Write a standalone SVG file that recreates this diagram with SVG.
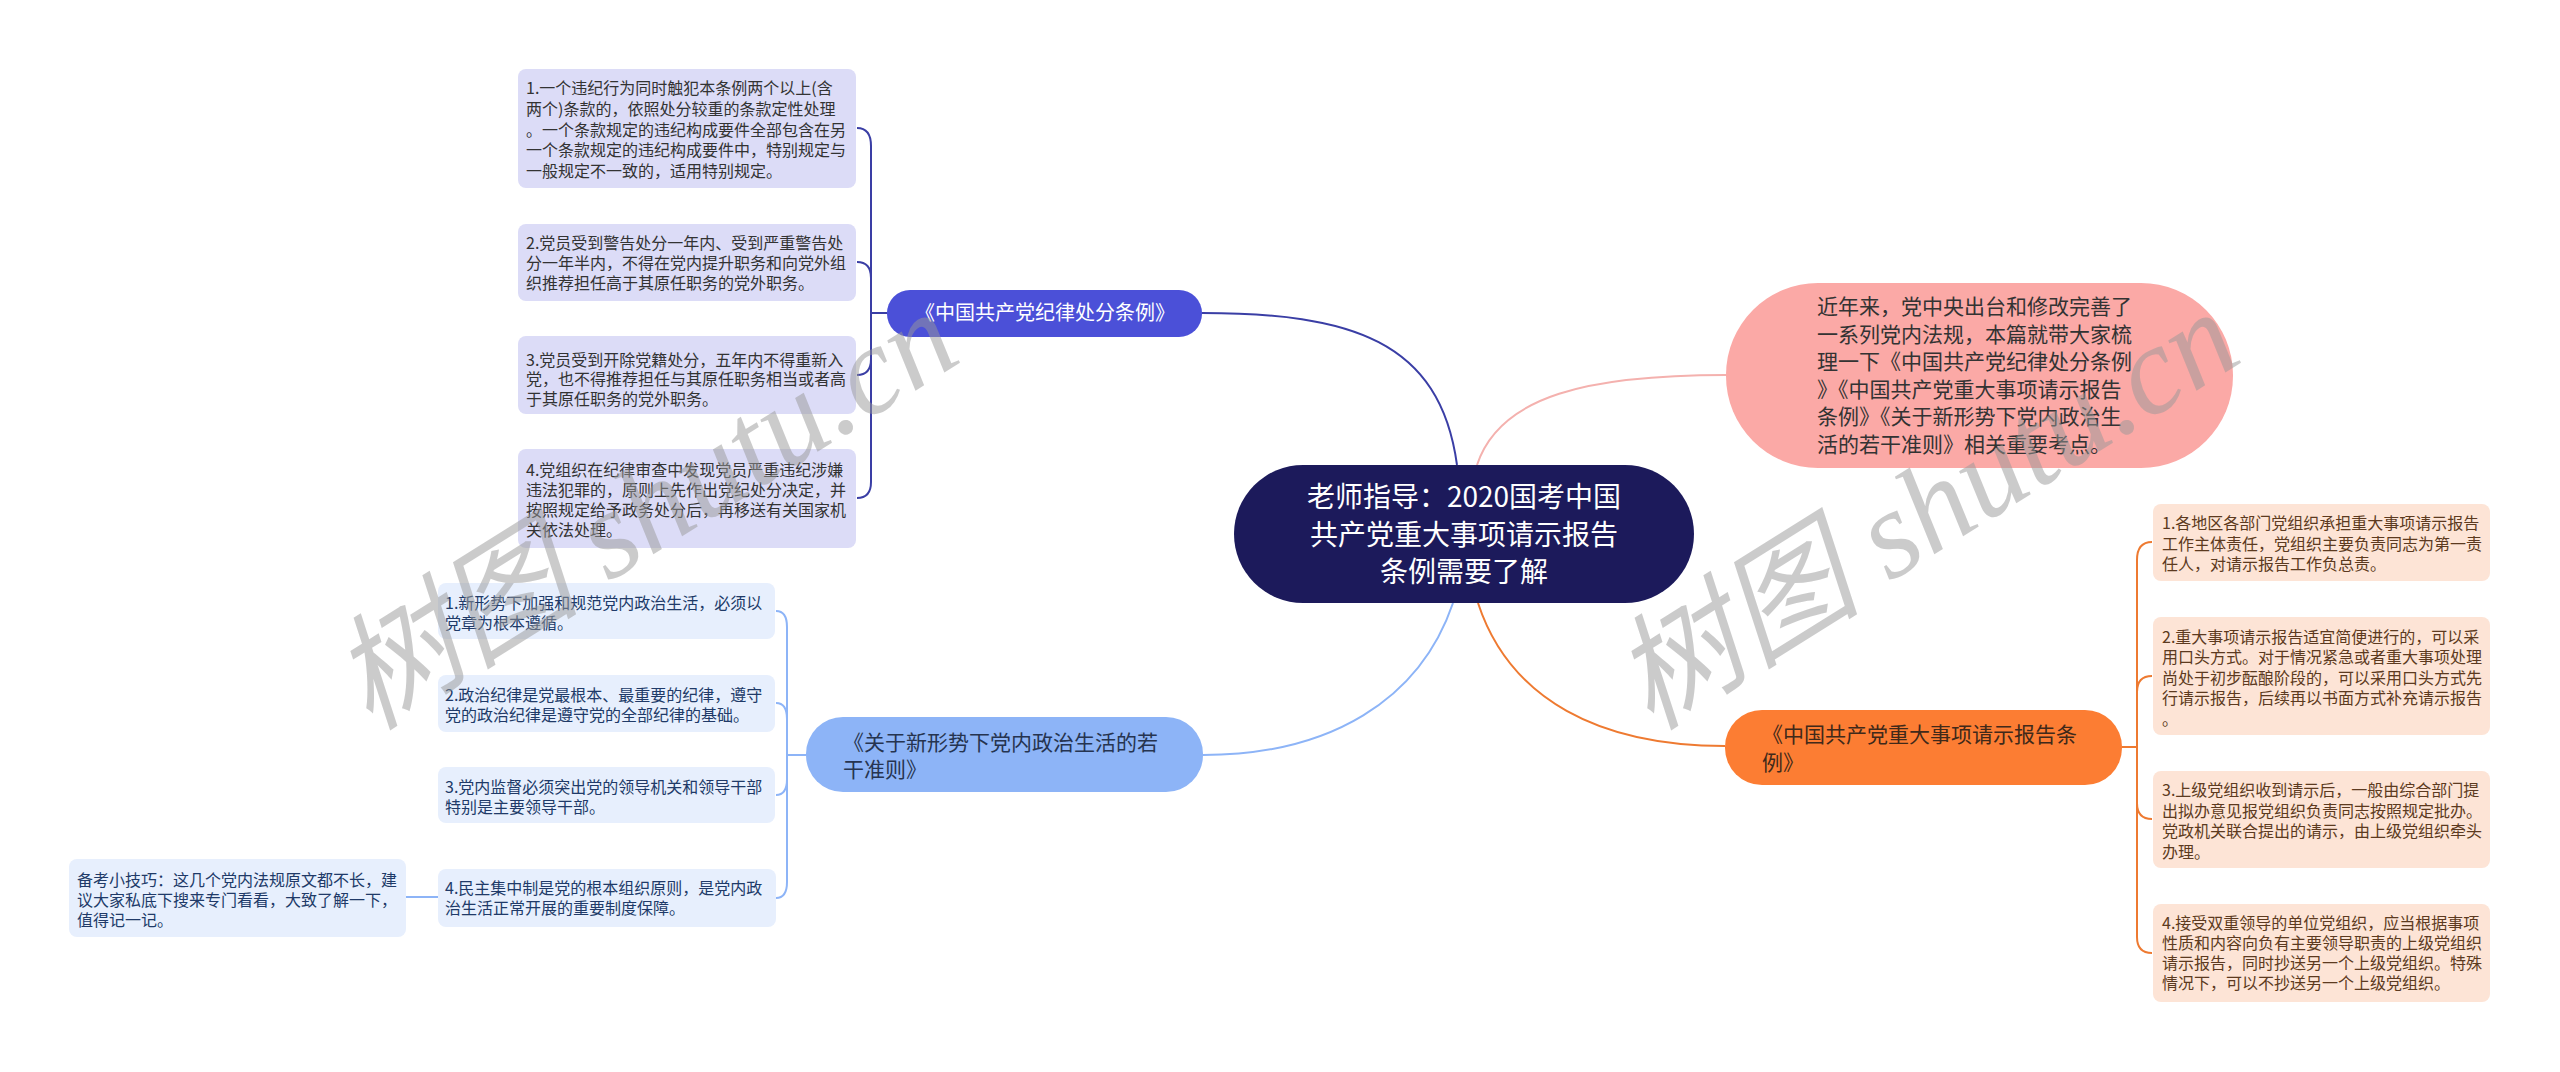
<svg xmlns="http://www.w3.org/2000/svg" width="2560" height="1072" viewBox="0 0 2560 1072">
<style>
text{font-family:"Noto Sans CJK SC","Liberation Sans",sans-serif}
.c{fill:none;stroke-width:2}
.cb{stroke:#3a3ea5}
.cp{stroke:#f4b1ae}
.co{stroke:#ee7a31}
.cl{stroke:#8db4f7}
.lav{fill:#dcdcf7}
.pea{fill:#fde4d6}
.lbl{fill:#e7effd}
.t16{font-size:16px}
.tl{fill:#333}
.to{fill:#5c3a20}
.tb{fill:#203a68}
.wm{font-family:"Liberation Serif","Noto Sans CJK SC",serif;font-style:italic;font-size:125px;fill:#999;opacity:.5}
</style>
<rect width="2560" height="1072" fill="#fff"/>

<g id="connectors">
<path class="c cb" d="M1202 313 C1350 313 1440 340 1457 465"/>
<path class="c cp" d="M1477 465 C1500 395 1590 375 1726 375"/>
<path class="c co" d="M1478 603 C1510 700 1600 746 1725 746"/>
<path class="c cl" d="M1453 603 C1420 700 1330 755 1203 755"/>
<path class="c cb" d="M887 313 L871 313 M871 313 L871 146 Q871 128 857 128 M871 313 L871 278 Q871 262 857 262 M871 313 L871 359 Q871 375 857 375 M871 313 L871 482 Q871 498 857 498"/>
<path class="c co" d="M2122 747 L2137 747 M2137 747 L2137 560 Q2137 542 2152 542 M2137 747 L2137 692 Q2137 676 2152 676 M2137 747 L2137 803 Q2137 819 2152 819 M2137 747 L2137 937 Q2137 953 2152 953"/>
<path class="c cl" d="M806 755 L787 755 M787 755 L787 627 Q787 611 776 611 M787 755 L787 719 Q787 703 776 703 M787 755 L787 779 Q787 795 776 795 M787 755 L787 882 Q787 898 776 898"/>
<path class="c cl" d="M438 897 L406 897"/>
</g>

<g id="central">
<rect x="1234" y="465" width="460" height="138" rx="69" fill="#1c1a5b"/>
<text x="1464" text-anchor="middle" font-size="28" fill="#fff"><tspan x="1464" y="507">老师指导：2020国考中国</tspan><tspan x="1464" y="545">共产党重大事项请示报告</tspan><tspan x="1464" y="582">条例需要了解</tspan></text>
</g>

<g id="intro">
<rect x="1726" y="283" width="507" height="185" rx="92" fill="#fba9a6"/>
<text font-size="21" fill="#333"><tspan x="1817" y="314">近年来，党中央出台和修改完善了</tspan><tspan x="1817" y="342">一系列党内法规，本篇就带大家梳</tspan><tspan x="1817" y="369">理一下《中国共产党纪律处分条例</tspan><tspan x="1817" y="397">》《中国共产党重大事项请示报告</tspan><tspan x="1817" y="424">条例》《关于新形势下党内政治生</tspan><tspan x="1817" y="452">活的若干准则》相关重要考点。</tspan></text>
</g>

<g id="b1">
<rect x="887" y="290" width="315" height="47" rx="23" fill="#4b50d8"/>
<text x="1045" y="320" text-anchor="middle" font-size="20" fill="#fff">《中国共产党纪律处分条例》</text>
</g>
<g id="b1-1">
<rect class="lav" x="518" y="69" width="338" height="119" rx="8"/>
<text class="t16 tl"><tspan x="526" y="94">1.一个违纪行为同时触犯本条例两个以上(含</tspan><tspan x="526" y="115">两个)条款的，依照处分较重的条款定性处理</tspan><tspan x="526" y="136">。一个条款规定的违纪构成要件全部包含在另</tspan><tspan x="526" y="156">一个条款规定的违纪构成要件中，特别规定与</tspan><tspan x="526" y="177">一般规定不一致的，适用特别规定。</tspan></text>
</g>
<g id="b1-2">
<rect class="lav" x="518" y="224" width="338" height="77" rx="8"/>
<text class="t16 tl"><tspan x="526" y="249">2.党员受到警告处分一年内、受到严重警告处</tspan><tspan x="526" y="269">分一年半内，不得在党内提升职务和向党外组</tspan><tspan x="526" y="289">织推荐担任高于其原任职务的党外职务。</tspan></text>
</g>
<g id="b1-3">
<rect class="lav" x="518" y="336" width="338" height="78" rx="8"/>
<text class="t16 tl"><tspan x="526" y="366">3.党员受到开除党籍处分，五年内不得重新入</tspan><tspan x="526" y="385">党，也不得推荐担任与其原任职务相当或者高</tspan><tspan x="526" y="405">于其原任职务的党外职务。</tspan></text>
</g>
<g id="b1-4">
<rect class="lav" x="518" y="449" width="338" height="99" rx="8"/>
<text class="t16 tl"><tspan x="526" y="476">4.党组织在纪律审查中发现党员严重违纪涉嫌</tspan><tspan x="526" y="496">违法犯罪的，原则上先作出党纪处分决定，并</tspan><tspan x="526" y="516">按照规定给予政务处分后，再移送有关国家机</tspan><tspan x="526" y="536">关依法处理。</tspan></text>
</g>

<g id="b2">
<rect x="1725" y="710" width="397" height="75" rx="37" fill="#fc7d33"/>
<text font-size="21" fill="#40291a"><tspan x="1762" y="742">《中国共产党重大事项请示报告条</tspan><tspan x="1762" y="770">例》</tspan></text>
</g>
<g id="b2-1">
<rect class="pea" x="2153" y="504" width="337" height="77" rx="8"/>
<text class="t16 to"><tspan x="2162" y="529">1.各地区各部门党组织承担重大事项请示报告</tspan><tspan x="2162" y="549.5">工作主体责任，党组织主要负责同志为第一责</tspan><tspan x="2162" y="570">任人，对请示报告工作负总责。</tspan></text>
</g>
<g id="b2-2">
<rect class="pea" x="2153" y="617" width="337" height="118" rx="8"/>
<text class="t16 to"><tspan x="2162" y="642.5">2.重大事项请示报告适宜简便进行的，可以采</tspan><tspan x="2162" y="663">用口头方式。对于情况紧急或者重大事项处理</tspan><tspan x="2162" y="683.5">尚处于初步酝酿阶段的，可以采用口头方式先</tspan><tspan x="2162" y="704">行请示报告，后续再以书面方式补充请示报告</tspan><tspan x="2162" y="724.5">。</tspan></text>
</g>
<g id="b2-3">
<rect class="pea" x="2153" y="771" width="337" height="97" rx="8"/>
<text class="t16 to"><tspan x="2162" y="796">3.上级党组织收到请示后，一般由综合部门提</tspan><tspan x="2162" y="816.5">出拟办意见报党组织负责同志按照规定批办。</tspan><tspan x="2162" y="837">党政机关联合提出的请示，由上级党组织牵头</tspan><tspan x="2162" y="857.5">办理。</tspan></text>
</g>
<g id="b2-4">
<rect class="pea" x="2153" y="904" width="337" height="98" rx="8"/>
<text class="t16 to"><tspan x="2162" y="929">4.接受双重领导的单位党组织，应当根据事项</tspan><tspan x="2162" y="949">性质和内容向负有主要领导职责的上级党组织</tspan><tspan x="2162" y="969">请示报告，同时抄送另一个上级党组织。特殊</tspan><tspan x="2162" y="989">情况下，可以不抄送另一个上级党组织。</tspan></text>
</g>

<g id="b3">
<rect x="806" y="717" width="397" height="75" rx="37" fill="#8db4f7"/>
<text font-size="21" fill="#263450"><tspan x="843" y="750">《关于新形势下党内政治生活的若</tspan><tspan x="843" y="777">干准则》</tspan></text>
</g>
<g id="b3-1">
<rect class="lbl" x="438" y="583" width="337" height="56" rx="8"/>
<text class="t16 tb"><tspan x="445" y="608.5">1.新形势下加强和规范党内政治生活，必须以</tspan><tspan x="445" y="628.5">党章为根本遵循。</tspan></text>
</g>
<g id="b3-2">
<rect class="lbl" x="438" y="675" width="337" height="57" rx="8"/>
<text class="t16 tb"><tspan x="445" y="700.5">2.政治纪律是党最根本、最重要的纪律，遵守</tspan><tspan x="445" y="720.5">党的政治纪律是遵守党的全部纪律的基础。</tspan></text>
</g>
<g id="b3-3">
<rect class="lbl" x="438" y="767" width="337" height="56" rx="8"/>
<text class="t16 tb"><tspan x="445" y="793">3.党内监督必须突出党的领导机关和领导干部</tspan><tspan x="445" y="813">特别是主要领导干部。</tspan></text>
</g>
<g id="b3-4">
<rect class="lbl" x="438" y="869" width="338" height="58" rx="8"/>
<text class="t16 tb"><tspan x="445" y="893.5">4.民主集中制是党的根本组织原则，是党内政</tspan><tspan x="445" y="913.5">治生活正常开展的重要制度保障。</tspan></text>
</g>
<g id="tip">
<rect class="lbl" x="69" y="859" width="337" height="78" rx="8"/>
<text class="t16 tb"><tspan x="77" y="885.5">备考小技巧：这几个党内法规原文都不长，建</tspan><tspan x="77" y="905.5">议大家私底下搜来专门看看，大致了解一下，</tspan><tspan x="77" y="925.5">值得记一记。</tspan></text>
</g>

<g id="watermark">
<text class="wm" x="645" y="510" text-anchor="middle" dominant-baseline="central" transform="rotate(-32 645 510)">树图 shutu.cn</text>
<text class="wm" x="1926" y="510" text-anchor="middle" dominant-baseline="central" transform="rotate(-32 1926 510)">树图 shutu.cn</text>
</g>
</svg>
